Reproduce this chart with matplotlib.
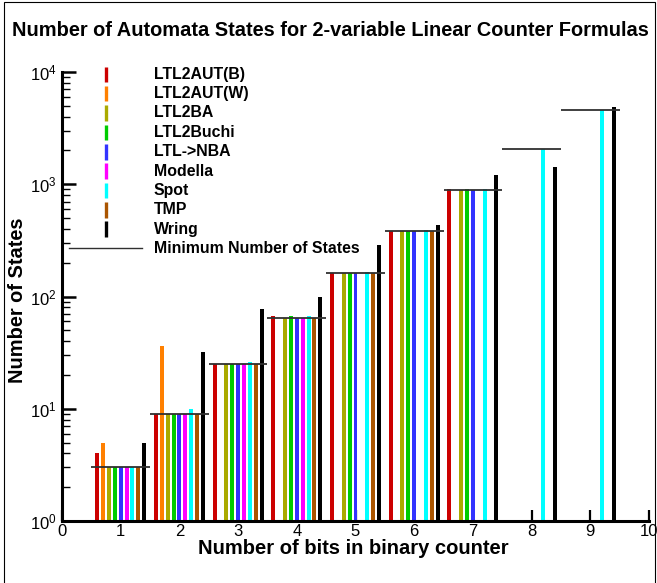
import numpy as np
import matplotlib
matplotlib.use("Agg")
import matplotlib.pyplot as plt
from matplotlib.patches import Rectangle
from matplotlib.lines import Line2D

plt.rcParams['font.family'] = ['Liberation Sans', 'DejaVu Sans']
plt.rcParams['mathtext.fontset'] = 'custom'
plt.rcParams['mathtext.rm'] = 'Liberation Sans'
plt.rcParams['mathtext.it'] = 'Liberation Sans'

nan = np.nan
bits = [1, 2, 3, 4, 5, 6, 7, 8, 9]
tools = ["LTL2AUT(B)", "LTL2AUT(W)", "LTL2BA", "LTL2Buchi", "LTL->NBA",
         "Modella", "Spot", "TMP", "Wring"]
colors = ["#cc0000", "#ff8000", "#aaaa00", "#00cc00", "#3333ff",
          "#ff00ff", "#00ffff", "#aa5500", "#000000"]

ltl2aut_b = [4, 9, 25, 67, 161, 385, 905, nan, nan]
ltl2aut_w = [5, 36, nan, nan, nan, nan, nan, nan, nan]
ltl2ba = [3, 9, 25, 65, 161, 385, 897, nan, nan]
ltl2buchi = [3, 9, 25, 67, 161, 385, 905, nan, nan]
ltl_nba = [3, 9, 25, 65, 161, 385, 897, nan, nan]
modella = [3, 9, 25, 65, nan, nan, nan, nan, nan]
spot = [3, 10, 26, 67, 165, 393, 905, 2049, 4609]
tmp = [3, 9, 25, 65, 161, 385, nan, nan, nan]
wring = [5, 32, 77, 100, 287, 437, 1210, 1430, 4850]
min_states = [3, 9, 25, 65, 161, 385, 897, 2049, 4609]

series = [ltl2aut_b, ltl2aut_w, ltl2ba, ltl2buchi, ltl_nba, modella, spot, tmp, wring]

W, H = 657, 583
fig = plt.figure(figsize=(W / 100, H / 100), dpi=100)
ax = fig.add_axes([62 / W, 1 - 521 / H, (649 - 62) / W, (521 - 72) / H])
ax.set_yscale('log')
ax.set_xlim(0, 10)
ax.set_ylim(1, 1e4)

x = np.array(bits, dtype=float)
offsets = np.linspace(-0.4, 0.4, 9)
for vals, col, off in zip(series, colors, offsets):
    v = np.array(vals, dtype=float)
    m = ~np.isnan(v)
    ax.bar(x[m] + off, v[m] - 1, bottom=1, width=0.068, color=col, linewidth=0, zorder=2)

ax.hlines(min_states, x - 0.5, x + 0.5, color="#303030", linewidth=1.3, zorder=3)

for s in ['top', 'right']:
    ax.spines[s].set_visible(False)
for s in ['left', 'bottom']:
    ax.spines[s].set_linewidth(2.2)

ax.set_xticks(range(0, 11))
ax.tick_params(axis='x', which='major', direction='in', length=8, width=1.6,
               labelsize=12, pad=2)
ax.tick_params(axis='y', which='major', direction='in', length=10, width=1.8,
               labelsize=12, pad=4)
ax.tick_params(axis='y', which='minor', direction='in', length=6, width=1.0)

fig.text(330 / W, 1 - 30 / H,
         "Number of Automata States for 2-variable Linear Counter Formulas",
         ha='center', va='center', fontsize=14.4, fontweight='bold')
fig.text(353 / W, 1 - 549 / H, "Number of bits in binary counter",
         ha='center', va='center', fontsize=14.5, fontweight='bold')
fig.text(18 / W, 1 - 300 / H, "Number of States", rotation=90,
         ha='center', va='center', fontsize=14.4, fontweight='bold')

# legend
y0, dy = 74.3, 19.35
for i, (lab, col) in enumerate(zip(tools, colors)):
    yc = y0 + i * dy
    fig.add_artist(Line2D([105.5 / W, 105.5 / W],
                          [1 - (yc - 7.8) / H, 1 - (yc + 7.8) / H],
                          color=col, linewidth=2.4, transform=fig.transFigure,
                          solid_capstyle='butt'))
    fig.text(154 / W, 1 - yc / H, lab, ha='left', va='center',
             fontsize=11.4, fontweight='bold')
yc = y0 + 9 * dy
fig.add_artist(Line2D([69 / W, 142 / W], [1 - yc / H, 1 - yc / H],
                      color="#303030", linewidth=1.0, transform=fig.transFigure))
fig.text(154 / W, 1 - yc / H, "Minimum Number of States", ha='left',
         va='center', fontsize=11.4, fontweight='bold')

fig.add_artist(Rectangle((4 / W, -0.05), (655 - 4) / W, 1.05 - 2.5 / H,
                         transform=fig.transFigure, fill=False,
                         edgecolor='black', linewidth=0.8))

fig.savefig("out.png", dpi=100)
